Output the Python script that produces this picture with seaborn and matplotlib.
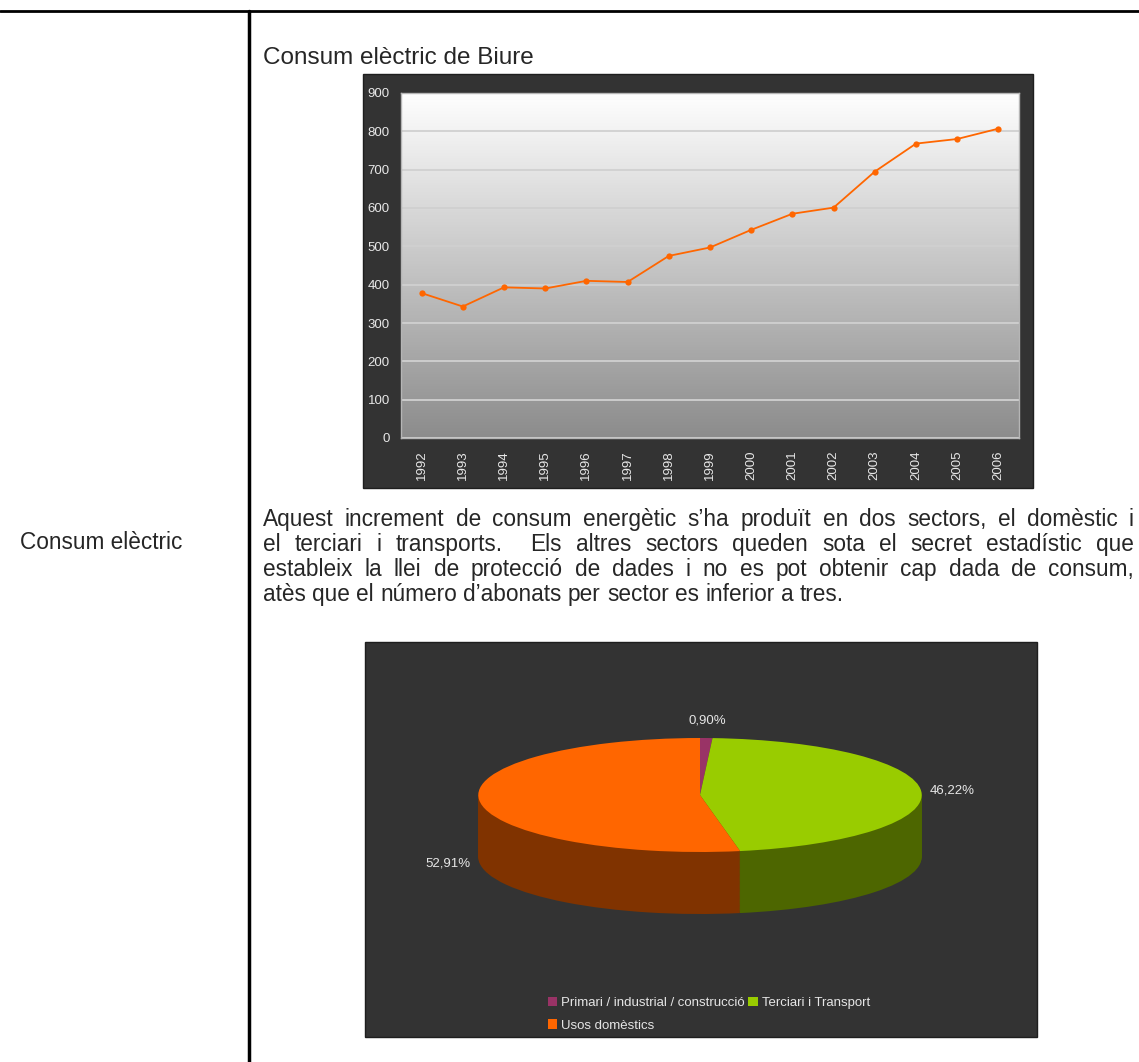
import matplotlib
matplotlib.use("Agg")
import matplotlib.pyplot as plt
import numpy as np
import pandas as pd
import seaborn as sns
from matplotlib.colors import LinearSegmentedColormap
from matplotlib.patches import Rectangle
from matplotlib.lines import Line2D

# data
years = ['1992', '1993', '1994', '1995', '1996', '1997', '1998', '1999',
         '2000', '2001', '2002', '2003', '2004', '2005', '2006']
consum = [378, 343, 393, 390, 410, 407, 475, 497, 543, 585, 601, 695, 768, 780, 807]

sectors = ['Primari / industrial / construcció', 'Terciari i Transport', 'Usos domèstics']
shares = [0.90, 46.22, 52.91]
top_colors = ['#993366', '#99cc00', '#ff6600']
side_colors = ['#4d1a33', '#4d6600', '#803300']

title = 'Consum elèctric de Biure'
row_label = 'Consum elèctric'
paragraph = [
    'Aquest increment de consum energètic s’ha produït en dos sectors, el domèstic i',
    'el terciari i transports.  Els altres sectors queden sota el secret estadístic que',
    'estableix la llei de protecció de dades i no es pot obtenir cap dada de consum,',
    'atès que el número d’abonats per sector es inferior a tres.',
]

sns.set_style("white")
plt.rcParams['font.family'] = ['Liberation Sans', 'DejaVu Sans']

W, H = 1139, 1062
fig = plt.figure(figsize=(W / 100, H / 100), dpi=100)


def rect(x0, y0, x1, y1):
    return [x0 / W, 1 - y1 / H, (x1 - x0) / W, (y1 - y0) / H]


def box(x0, y0, x1, y1):
    fig.add_artist(Rectangle((x0 / W, 1 - y1 / H), (x1 - x0) / W, (y1 - y0) / H,
                             transform=fig.transFigure, facecolor='#333333',
                             edgecolor='#1e1e1e', lw=1, zorder=0))


# table lines
fig.add_artist(Line2D([0, 1], [1 - 11 / H] * 2, color='black', lw=2))
fig.add_artist(Line2D([249 / W] * 2, [1 - 11 / H, 0], color='black', lw=2.5))

# texts
fig.text(263 / W, 1 - 64 / H, title, fontsize=17.5, va='baseline')
fig.text(20 / W, 1 - 549 / H, row_label, fontsize=16.3, va='baseline')


def justified(lines, x0, x1, y0, step, size):
    renderer = fig.canvas.get_renderer()
    for i, line in enumerate(lines):
        words = line.split(' ')
        texts = [fig.text(0, 0, w, fontsize=size, va='baseline') for w in words]
        widths = [t.get_window_extent(renderer).width if w else 0 for t, w in zip(texts, words)]
        if i < len(lines) - 1:
            gap = (x1 - x0 - sum(widths)) / (len(words) - 1)
        else:
            gap = 0.278 * size * 100 / 72
        x = x0
        for t, wd in zip(texts, widths):
            t.set_position((x / W, 1 - (y0 + i * step) / H))
            x += wd + gap


justified(paragraph, 263, 1134, 526, 25, 16.3)

# line chart
box(363, 74, 1033, 488)
ax1 = fig.add_axes(rect(401, 93, 1019, 438))
grad = LinearSegmentedColormap.from_list('bg', ['#8c8c8c', '#ffffff'])
ax1.imshow(np.linspace(1, 0, 256)[:, None], cmap=grad, extent=(0, 1, 0, 1),
           transform=ax1.transAxes, aspect='auto', zorder=0)
df = pd.DataFrame({'any': years, 'consum': consum})
sns.lineplot(data=df, x='any', y='consum', ax=ax1, color='#ff6600', marker='o',
             markersize=4.5, markeredgewidth=0, linewidth=1.3, zorder=3)
ax1.set_xlim(-0.5, len(years) - 0.5)
ax1.set_ylim(0, 900)
ax1.set_yticks(range(0, 901, 100))
ax1.set_xticks(range(len(years)))
ax1.set_xticklabels(years, rotation=90)
ax1.set_xticks(np.arange(-0.5, len(years), 1), minor=True)
ax1.yaxis.grid(True, color='#d0d0d0', lw=1.3)
ax1.set_xlabel('')
ax1.set_ylabel('')
ax1.tick_params(axis='x', which='major', length=0, pad=9, labelcolor='#e8e8e8', labelsize=9.5)
ax1.tick_params(axis='x', which='minor', length=5, color='#bbbbbb', direction='out')
ax1.tick_params(axis='y', length=3, color='#bbbbbb', pad=5, labelcolor='#e8e8e8', labelsize=9.5)
for s in ax1.spines.values():
    s.set_color('#b5b5b5')
    s.set_linewidth(1)

# 3D pie chart
box(365, 642, 1037, 1037)
ax2 = fig.add_axes(rect(365, 642, 1037, 1037))
a, b = 221.7, 57.0
k = b / a
cx, cy, depth = 700, 795, 62
for t in np.linspace(depth, 1, 70):
    ax2.pie(shares, colors=side_colors, startangle=90, counterclock=False, radius=a,
            center=(cx, -(cy + t) / k), wedgeprops=dict(linewidth=0))
wedges, _ = ax2.pie(shares, colors=top_colors, startangle=90, counterclock=False, radius=a,
                    center=(cx, -cy / k), wedgeprops=dict(linewidth=0))
ax2.set_aspect('auto')
ax2.set_xlim(365, 1037)
ax2.set_ylim(-1037 / k, -642 / k)
ax2.axis('off')

mid = 90 - 360 * (np.cumsum(shares) - np.array(shares) / 2) / sum(shares)
for v, th in zip(shares, np.deg2rad(mid)):
    lx = cx + 1.14 * a * np.cos(th)
    ly = cy - (1.14 * b + 10) * np.sin(th)
    if np.sin(th) < 0:
        ly += depth
    ax2.text(lx, -ly / k, f'{v:.2f}%'.replace('.', ','), ha='center', va='center',
             color='#e6e6e6', fontsize=9.5)

order = [0, 2, 1]
ax2.legend([wedges[i] for i in order], [sectors[i] for i in order], ncol=2,
           loc='upper left', bbox_to_anchor=(541 / W, 1 - 990 / H),
           bbox_transform=fig.transFigure, frameon=False, fontsize=9.5,
           labelcolor='#e6e6e6', handlelength=0.7, handleheight=0.7,
           handletextpad=0.3, columnspacing=0.3, labelspacing=0.8, borderpad=0)

fig.savefig('out.png', dpi=100)
